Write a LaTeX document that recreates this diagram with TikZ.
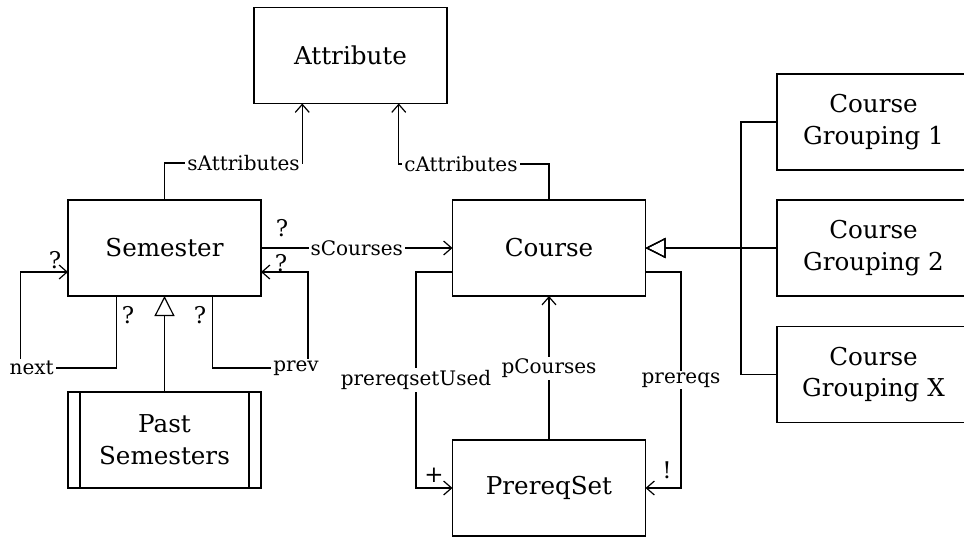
\documentclass[tikz,border=0pt]{standalone}
\usepackage{fontspec}
\setmainfont{DejaVu Serif}
\usetikzlibrary{arrows.meta}
\newcommand\boxfnt{\fontsize{12.3}{15.8}\selectfont}
\newcommand\lblfnt{\fontsize{10}{12}\selectfont}
\newcommand\cardfnt{\fontsize{11.5}{12}\selectfont}
\tikzset{
	box/.style={draw, minimum width=96.5pt, minimum height=48pt, inner sep=0pt, outer sep=0pt, align=center, font=\boxfnt},
	lbl/.style={fill=white, inner sep=1pt, font=\lblfnt},
	card/.style={inner sep=0pt, font=\cardfnt},
	assoc/.style={-{Straight Barb[length=4pt,width=7pt]}},
	inherit/.style={-{Triangle[open,length=10pt,width=10pt]}}
}
\begin{document}
\begin{tikzpicture}[x=0.5pt, y=-0.5pt, line width=0.6pt]
		%%%%% START %%%%%
		\useasboundingbox (0, 0) rectangle (964, 536);
		
		\node[box] (attr) at (350.5, 55.5) {Attribute};
		\node[box] (sem) at (164.5, 248) {Semester};
		\node[box] (course) at (549, 248) {Course};
		\node[box] (pre) at (549, 488) {PrereqSet};
		\node[box] (past) at (164.5, 440) {Past\\Semesters};
		\draw ([xshift=6pt]past.north west) -- ([xshift=6pt]past.south west);
		\draw ([xshift=-6pt]past.north east) -- ([xshift=-6pt]past.south east);
		
		\node[box] (g1) at (873.5, 122) {Course\\Grouping 1};
		\node[box] (g2) at (873.5, 248) {Course\\Grouping 2};
		\node[box] (gx) at (873.5, 374.5) {Course\\Grouping X};
		
		% attributes
		\coordinate (sa) at (302.25, 163);
		\coordinate (ca) at (398.75, 164);
		\draw[assoc] (sem.north) |- (sa) node[lbl, anchor=east] (salbl) {sAttributes} -- ([xshift=-24.125pt]attr.south);
		\draw[assoc] (course.north) |- (ca) node[lbl, anchor=west, xshift=1.5pt] (calbl) {cAttributes} -- ([xshift=24.125pt]attr.south);
		
		% semester links
		\draw[assoc] (sem.east) -- node[lbl] (sclbl) {sCourses} (course.west);
		\coordinate (nx) at (20.7, 368);
		\coordinate (pv) at (308, 368);
		\draw[assoc] ([xshift=-24.125pt]sem.south) |- (nx) node[lbl, xshift=5.5pt] (nxlbl) {next} |- ([yshift=-12pt]sem.west);
		\draw[assoc] ([xshift=24.125pt]sem.south) |- (pv) node[lbl, xshift=-6pt] (pvlbl) {prev} |- ([yshift=-12pt]sem.east);
		\node[card] (q1) at (282, 228) {?};
		\node[card] (q2) at (55, 260) {?};
		\node[card] (q3) at (128, 315) {?};
		\node[card] (q4) at (200, 315) {?};
		\node[card] (q5) at (281, 263) {?};
		
		\draw[inherit] (past.north) -- (sem.south);
		
		% prereqs
		\coordinate (pu) at (416, 488);
		\coordinate (pq) at (681, 488);
		\draw[assoc] ([yshift=-12pt]course.west) -| node[lbl, pos=0.75] (pulbl) {prereqsetUsed} (pu) -- (pre.west);
		\draw[assoc] ([yshift=-12pt]course.east) -| node[lbl, pos=0.75] (pqlbl) {prereqs} (pq) -- (pre.east);
		\draw[assoc] (pre.north) -- node[lbl] (pclbl) {pCourses} (course.south);
		\node[card] (plus) at (434, 475) {+};
		\node[card] (bang) at (667, 470) {!};
		
		% groupings
		\coordinate (bus) at (741, 248);
		\draw[inherit] (g1.west) -| (bus) -- (course.east);
		\draw[inherit] (g2.west) -- (course.east);
		\draw[inherit] (gx.west) -| (bus) -- (course.east);
		%%%%% END %%%%%
\end{tikzpicture}
\end{document}
